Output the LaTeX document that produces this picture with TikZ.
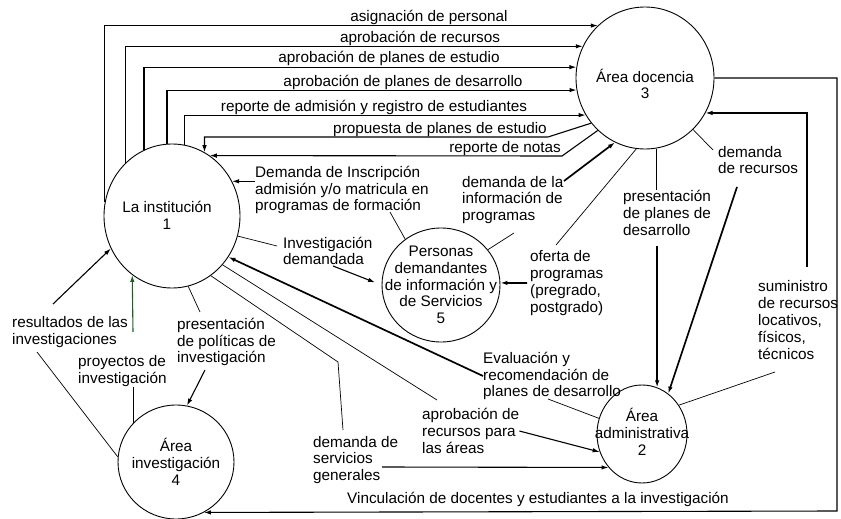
\documentclass[tikz,border=0pt]{standalone}
\usepackage{fontspec}
\setmainfont{Liberation Sans}
\usetikzlibrary{arrows.meta,shapes.geometric}
\definecolor{projgreen}{RGB}{30,95,40}

\begin{document}
\begin{tikzpicture}[
  x=1pt,
  y=-1pt,
  font=\fontsize{15.3}{16.8}\selectfont,
  >={Latex[length=7pt,width=4.5pt]},
  proc/.style={draw, ellipse, line width=0.9pt, inner sep=0pt},
  proctext/.style={align=center, inner sep=0pt},
  tag/.style={align=left, anchor=west, inner sep=0pt},
  linetag/.style={anchor=base, inner sep=0pt},
  flow/.style={line width=1.1pt},
  fine/.style={line width=0.7pt},
  heavy/.style={line width=1.7pt}
]
  \useasboundingbox (0,0) rectangle (841,519);

  \node[proc, minimum width=136pt, minimum height=144pt,
    label={[proctext, xshift=-5pt, yshift=1pt]center:La institución\\1}] (inst) at (172,216) {};
  \node[proc, minimum width=138pt, minimum height=142pt,
    label={[proctext, yshift=-6pt]center:Área docencia\\3}] (doc) at (645,78) {};
  \node[proc, minimum width=118pt, minimum height=114pt,
    label={[proctext]center:Personas\\demandantes\\de información y\\de Servicios\\5}] (per) at (441,285) {};
  \node[proc, minimum width=90pt, minimum height=98pt,
    label={[proctext, yshift=2pt]center:Área\\administrativa\\2}] (adm) at (642,434) {};
  \node[proc, minimum width=116pt, minimum height=114pt,
    label={[proctext]center:Área\\investigación\\4}] (inv) at (176,462) {};

  \node[linetag] (asig) at (429,22) {asignación de personal};
  \node[linetag] (aprec) at (420,43) {aprobación de recursos};
  \node[linetag] (apest) at (389,63) {aprobación de planes de estudio};
  \node[linetag] (apdes) at (403,86) {aprobación de planes de desarrollo};
  \node[linetag] (repadm) at (374,111) {reporte de admisión y registro de estudiantes};
  \node[linetag] (prop) at (440,133) {propuesta de planes de estudio};
  \node[linetag] (repnot) at (505,152) {reporte de notas};
  \node[anchor=base west, inner sep=0pt] (vinc) at (347,503) {Vinculación de docentes y estudiantes a la investigación};

  \node[tag] (dem) at (255,190) {Demanda de Inscripción\\admisión y/o matricula en\\programas de formación};
  \node[tag] (invd) at (283,251) {Investigación\\demandada};
  \node[tag] (dinf) at (462,200) {demanda de la\\información de\\programas};
  \node[tag] (ofer) at (530,283) {oferta de\\programas\\(pregrado,\\postgrado)};
  \node[tag] (pres) at (623,213) {presentación\\de planes de\\desarrollo};
  \node[tag] (drec) at (718,160) {demanda\\de recursos};
  \node[tag] (sumi) at (758,320) {suministro\\de recursos\\locativos,\\físicos,\\técnicos};
  \node[tag] (eval) at (483,376) {Evaluación y\\recomendación de\\planes de desarrollo};
  \node[tag] (arec) at (422,431) {aprobación de\\recursos para\\las áreas};
  \node[tag] (dsg) at (313,460) {demanda de\\servicios\\generales};
  \node[tag] (pol) at (177,342) {presentación\\de políticas de\\investigación};
  \node[tag] (proy) at (78,371) {proyectos de\\investigación};
  \node[tag] (res) at (12,332) {resultados de las\\investigaciones};

  \coordinate (p6) at (548,137);
  \coordinate (p7) at (562,156);
  \coordinate (dempie) at (390,212);
  \coordinate (invin) at (277,246);
  \coordinate (invout) at (333,266);
  \coordinate (evalpie) at (548,399);
  \coordinate (infout) at (564,181);
  \coordinate (infpie) at (514,233);
  \coordinate (ofertop) at (556,245);
  \coordinate (oferout) at (527,283);
  \coordinate (recin) at (713,150);
  \coordinate (recout) at (737,187);
  \coordinate (sumin) at (775,372);
  \coordinate (sumout) at (807,267);
  \coordinate (corner) at (837,511);
  \coordinate (arecin) at (437,400);
  \coordinate (dsgbend) at (338,362);
  \coordinate (dsgin) at (343,430);
  \coordinate (dsgout) at (382,467);
  \coordinate (polin) at (200,312);
  \coordinate (polout) at (205,370);
  \coordinate (proyout) at (133,332);
  \coordinate (resout) at (53,304);
  \coordinate (resin) at (37,352);

  \draw[flow,->] (inst.168) |- (doc.132);
  \draw[flow,->] (inst.131) |- (doc.153);
  \draw[flow,->] (inst.113) |- (doc.171);
  \draw[flow,->] (inst.94) |- (doc.190);
  \draw[flow,->] (inst.80) |- (doc.212);
  \draw[flow,->] (doc.220) -- (p6) -| (inst.63);
  \draw[flow,->] (doc.228) -- (p7) -- (inst.58);

  \draw[flow,->] (dem.west |- inst.30) -- (inst.30);
  \draw[fine] (per.128) -- (dempie);
  \draw[fine] (inst.-17) -- (invin);
  \draw[flow,->,shorten >=7pt] (invout) -- (per.west);
  \draw[heavy,->] (eval.west) -- (inst.-36);
  \draw[fine] (evalpie) -- (adm.160);
  \draw[heavy,->] (infout) -- (doc.245);
  \draw[fine] (per.37) -- (infpie);
  \draw[fine] (doc.263) -- (ofertop);
  \draw[heavy,->] (oferout) -- (per.2);

  \draw[flow] (doc.-81) -- (doc.-81 |- pres.north);
  \draw[heavy,->] ([yshift=-10pt]pres.south -| adm.72) -- (adm.72);
  \draw[fine] (doc.-47) -- (recin);
  \draw[heavy,->] (recout) -- (adm.57);
  \draw[fine] (adm.38) -- (sumin);
  \draw[flow,->] (sumout) |- (doc.-30);
  \draw[flow,->] (doc.east) -| (corner) -- (inv.-61);

  \draw[fine] (inst.-44) -- (arecin);
  \draw[flow,->] (arec.east) -- (adm.203);
  \draw[fine] (inst.-57) -- (dsgbend) -- (dsgin);
  \draw[flow,->] (dsgout) -- (adm.225);
  \draw[fine] (inst.-77) -- (polin);
  \draw[flow,->] (polout) -- (inv.79);
  \draw[fine] (inv.138) -- (inv.138 |- proy.south);
  \draw[flow,projgreen,->] (proyout) -- (inst.236);
  \draw[flow,->] (resout) -- (inst.208);
  \draw[fine] (resin) -- (inv.175);
\end{tikzpicture}
\end{document}
